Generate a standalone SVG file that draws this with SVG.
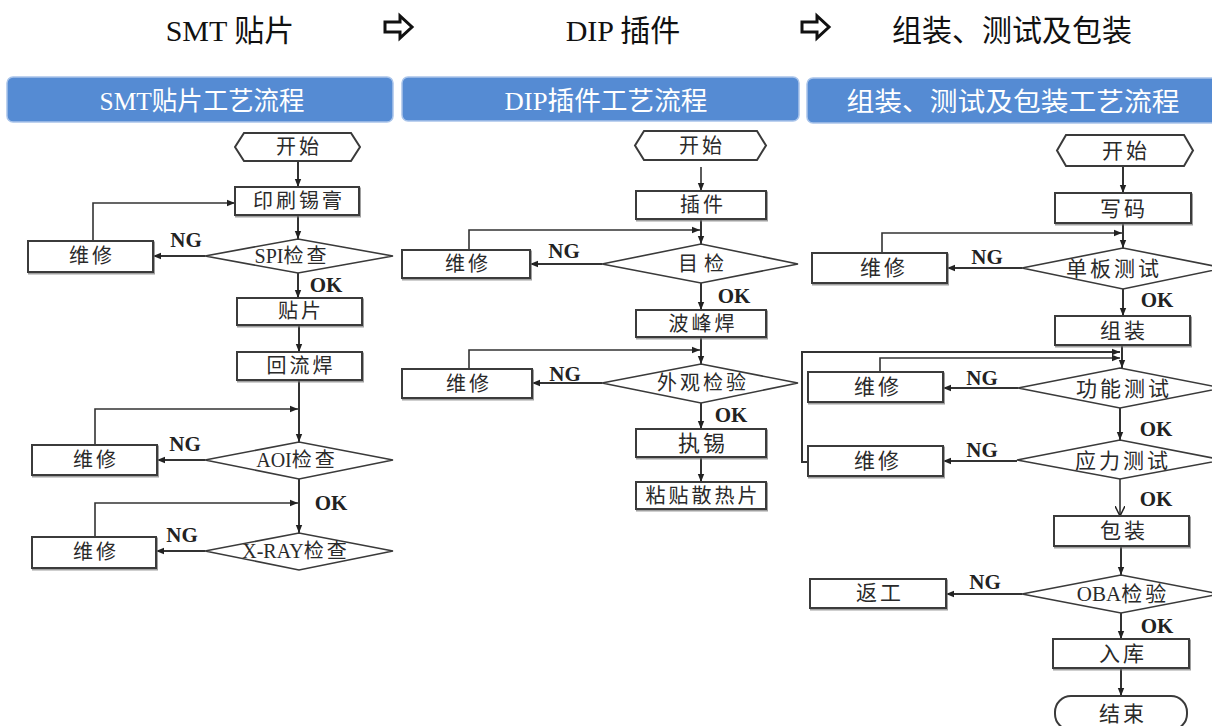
<svg xmlns="http://www.w3.org/2000/svg" width="1212" height="726" viewBox="0 0 1212 726">
<defs>
<style>
.box{fill:#fff;stroke:#3a3a3a;stroke-width:2}
.dia{fill:#fff;stroke:#3a3a3a;stroke-width:1.6}
.t{font-family:"Liberation Serif","Noto Sans CJK SC",serif;font-size:20px;fill:#2a2a2a;text-anchor:middle;letter-spacing:3px}
.t3{font-size:21px}
.la{letter-spacing:0}
.lb{font-family:"Liberation Serif",serif;font-weight:bold;font-size:21px;fill:#222;text-anchor:middle}
.c{fill:none;stroke:#333;stroke-width:2}
.cl{fill:none;stroke:#333;stroke-width:1.6}
.hd{fill:#558bd3;stroke:#a9c4ea;stroke-width:1.5}
.ht{font-family:"Liberation Serif","Noto Sans CJK SC",sans-serif;font-size:26px;fill:#fff;text-anchor:middle}
.top{font-family:"Liberation Serif","Noto Sans CJK SC",serif;font-size:30px;fill:#111;text-anchor:middle}
.blk{fill:#fff;stroke:#111;stroke-width:3;stroke-linejoin:miter}
</style>
<marker id="ah" viewBox="0 0 10 10" refX="10" refY="5" markerWidth="8" markerHeight="8" markerUnits="userSpaceOnUse" orient="auto">
<path d="M0,1 L10,5 L0,9 z" fill="#222"/>
</marker>
<marker id="av" viewBox="0 0 10 10" refX="10" refY="5" markerWidth="10" markerHeight="10" markerUnits="userSpaceOnUse" orient="auto">
<path d="M0,0 L10,5 L0,10" fill="none" stroke="#222" stroke-width="1.5"/>
</marker>
<filter id="sh" x="-10%" y="-20%" width="120%" height="150%">
<feDropShadow dx="1" dy="1.5" stdDeviation="0.6" flood-color="#777" flood-opacity="0.7"/>
</filter>
</defs>
<rect width="1212" height="726" fill="#fff"/>

<g id="top-row">
<text class="top" x="230" y="41">SMT 贴片</text>
<path class="blk" d="M385,22 H400 V16 L412,27 L400,38 V32 H385 Z"/>
<text class="top" x="623" y="41">DIP 插件</text>
<path class="blk" d="M802,22 H817 V16 L829,27 L817,38 V32 H802 Z"/>
<text class="top" x="1012" y="41">组装、测试及包装</text>
</g>

<g id="headers">
<g id="h-smt"><rect class="hd" x="7" y="77" width="386" height="45" rx="6"/><text class="ht" x="202" y="110" textLength="205" lengthAdjust="spacingAndGlyphs">SMT贴片工艺流程</text></g>
<g id="h-dip"><rect class="hd" x="402" y="77" width="397" height="44" rx="6"/><text class="ht" x="606" y="110" textLength="203" lengthAdjust="spacingAndGlyphs">DIP插件工艺流程</text></g>
<g id="h-asm"><rect class="hd" x="807" y="78" width="420" height="45" rx="6"/><text class="ht" x="1013" y="111" textLength="333" lengthAdjust="spacingAndGlyphs">组装、测试及包装工艺流程</text></g>
</g>

<g id="connectors">
<path class="c" d="M298,161 V187" marker-end="url(#ah)"/>
<path class="c" d="M298,215 V239" marker-end="url(#ah)"/>
<path class="c" d="M205,256 H153" marker-end="url(#ah)"/>
<path class="cl" d="M93,241 V203 H235" marker-end="url(#ah)"/>
<path class="c" d="M298,273 V298" marker-end="url(#ah)"/>
<path class="c" d="M299,325 V352" marker-end="url(#ah)"/>
<path class="c" d="M299,380 V442" marker-end="url(#ah)"/>
<path class="cl" d="M95,445 V409 H298" marker-end="url(#ah)"/>
<path class="c" d="M205,460 H157" marker-end="url(#ah)"/>
<path class="c" d="M299,479 V533" marker-end="url(#ah)"/>
<path class="cl" d="M95,537 V503 H298" marker-end="url(#ah)"/>
<path class="c" d="M205,551 H156" marker-end="url(#ah)"/>
<path class="cl" d="M701,167 V191" marker-end="url(#ah)"/>
<path class="c" d="M701,219 V244" marker-end="url(#ah)"/>
<path class="cl" d="M469,250 V230 H700" marker-end="url(#ah)"/>
<path class="c" d="M602,264 H530" marker-end="url(#ah)"/>
<path class="c" d="M701,283 V310" marker-end="url(#ah)"/>
<path class="c" d="M701,337 V364" marker-end="url(#ah)"/>
<path class="cl" d="M469,369 V350 H700" marker-end="url(#ah)"/>
<path class="c" d="M602,383 H532" marker-end="url(#ah)"/>
<path class="c" d="M701,403 V429" marker-end="url(#ah)"/>
<path class="c" d="M701,457 V482" marker-end="url(#ah)"/>
<path class="c" d="M1123,166 V193" marker-end="url(#ah)"/>
<path class="c" d="M1123,223 V248" marker-end="url(#ah)"/>
<path class="cl" d="M882,253 V233 H1122" marker-end="url(#ah)"/>
<path class="c" d="M1022,268 H947" marker-end="url(#ah)"/>
<path class="c" d="M1123,289 V316" marker-end="url(#ah)"/>
<path class="c" d="M1122,345 V368" marker-end="url(#ah)"/>
<path class="c" d="M808,462 H802 V352 H1120" marker-end="url(#ah)"/>
<path class="cl" d="M880,372 V358 H1120" marker-end="url(#ah)"/>
<path class="c" d="M1018,388 H943" marker-end="url(#ah)"/>
<path class="c" d="M1120,408 V440" marker-end="url(#ah)"/>
<path class="c" d="M1017,461 H943" marker-end="url(#ah)"/>
<path class="cl" d="M1120,479 V516" marker-end="url(#av)"/>
<path class="c" d="M1121,546 V575" marker-end="url(#ah)"/>
<path class="c" d="M1022,594 H946" marker-end="url(#ah)"/>
<path class="c" d="M1121,613 V639" marker-end="url(#ah)"/>
<path class="c" d="M1121,668 V696" marker-end="url(#ah)"/>
</g>

<g id="labels">
<text class="lb" x="186" y="247">NG</text>
<text class="lb" x="326" y="292">OK</text>
<text class="lb" x="185" y="451">NG</text>
<text class="lb" x="331" y="510">OK</text>
<text class="lb" x="182" y="542">NG</text>
<text class="lb" x="564" y="258">NG</text>
<text class="lb" x="734" y="303">OK</text>
<text class="lb" x="565" y="381">NG</text>
<text class="lb" x="731" y="422">OK</text>
<text class="lb" x="987" y="264">NG</text>
<text class="lb" x="1157" y="307">OK</text>
<text class="lb" x="982" y="385">NG</text>
<text class="lb" x="1156" y="436">OK</text>
<text class="lb" x="982" y="457">NG</text>
<text class="lb" x="1156" y="506">OK</text>
<text class="lb" x="985" y="589">NG</text>
<text class="lb" x="1157" y="633">OK</text>
</g>

<g id="smt-start"><polygon class="box" points="244,133 351,133 360,147 351,161 244,161 235,147"/><text class="t" x="299" y="154">开始</text></g>
<g id="smt-print"><rect class="box" filter="url(#sh)" x="235" y="187" width="124" height="28"/><text class="t" x="299" y="208">印刷锡膏</text></g>
<g id="smt-spi"><polygon class="dia" points="205,256 298,239 393,256 298,273"/><text class="t" x="292" y="263"><tspan class="la">SPI</tspan>检查</text></g>
<g id="smt-fix1"><rect class="box" filter="url(#sh)" x="28" y="241" width="125" height="31"/><text class="t" x="92" y="263">维修</text></g>
<g id="smt-place"><rect class="box" filter="url(#sh)" x="237" y="298" width="125" height="27"/><text class="t" x="301" y="318">贴片</text></g>
<g id="smt-reflow"><rect class="box" filter="url(#sh)" x="237" y="352" width="125" height="28"/><text class="t" x="301" y="373">回流焊</text></g>
<g id="smt-aoi"><polygon class="dia" points="205,460 299,442 393,460 299,479"/><text class="t" x="297" y="467"><tspan class="la">AOI</tspan>检查</text></g>
<g id="smt-fix2"><rect class="box" filter="url(#sh)" x="32" y="445" width="125" height="30"/><text class="t" x="96" y="467">维修</text></g>
<g id="smt-xray"><polygon class="dia" points="205,551 299,533 393,551 299,570"/><text class="t" x="296" y="558"><tspan class="la">X-RAY</tspan>检查</text></g>
<g id="smt-fix3"><rect class="box" filter="url(#sh)" x="32" y="537" width="124" height="31"/><text class="t" x="96" y="559">维修</text></g>

<g id="dip-start"><polygon class="box" points="644,131 757,131 766,145.5 757,160 644,160 635,145.5"/><text class="t" x="702" y="153">开始</text></g>
<g id="dip-insert"><rect class="box" filter="url(#sh)" x="636" y="191" width="130" height="28"/><text class="t" x="703" y="212">插件</text></g>
<g id="dip-visual"><polygon class="dia" points="602,264 701,244 798,264 701,283"/><text class="t" x="704" y="271" style="letter-spacing:6px">目检</text></g>
<g id="dip-fix1"><rect class="box" filter="url(#sh)" x="402" y="250" width="128" height="28"/><text class="t" x="468" y="271">维修</text></g>
<g id="dip-wave"><rect class="box" filter="url(#sh)" x="636" y="310" width="130" height="27"/><text class="t" x="703" y="331">波峰焊</text></g>
<g id="dip-inspect"><polygon class="dia" points="602,383 701,364 798,383 701,403"/><text class="t" x="703" y="390">外观检验</text></g>
<g id="dip-fix2"><rect class="box" filter="url(#sh)" x="402" y="369" width="130" height="29"/><text class="t" x="469" y="391">维修</text></g>
<g id="dip-tin"><rect class="box" filter="url(#sh)" x="636" y="429" width="130" height="28"/><text class="t" x="703" y="451" style="font-size:22px">执锡</text></g>
<g id="dip-sink"><rect class="box" filter="url(#sh)" x="636" y="482" width="130" height="27"/><text class="t" x="703" y="503">粘贴散热片</text></g>

<g id="asm-start"><polygon class="box" points="1066,135 1184,135 1193,150.5 1184,166 1066,166 1057,150.5"/><text class="t t3" x="1126" y="158">开始</text></g>
<g id="asm-code"><rect class="box" filter="url(#sh)" x="1055" y="193" width="136" height="30"/><text class="t t3" x="1124" y="216">写码</text></g>
<g id="asm-board"><polygon class="dia" points="1022,268 1123,248 1224,268 1123,289"/><text class="t t3" x="1114" y="276">单板测试</text></g>
<g id="asm-fix1"><rect class="box" filter="url(#sh)" x="812" y="253" width="135" height="30"/><text class="t t3" x="884" y="275">维修</text></g>
<g id="asm-assemble"><rect class="box" filter="url(#sh)" x="1055" y="316" width="135" height="29"/><text class="t t3" x="1124" y="338">组装</text></g>
<g id="asm-func"><polygon class="dia" points="1018,388 1120,368 1222,388 1120,408"/><text class="t t3" x="1124" y="396">功能测试</text></g>
<g id="asm-fix2"><rect class="box" filter="url(#sh)" x="808" y="372" width="135" height="30"/><text class="t t3" x="878" y="394">维修</text></g>
<g id="asm-stress"><polygon class="dia" points="1017,460 1120,440 1223,460 1120,479"/><text class="t t3" x="1123" y="468">应力测试</text></g>
<g id="asm-fix3"><rect class="box" filter="url(#sh)" x="808" y="446" width="135" height="30"/><text class="t t3" x="878" y="468">维修</text></g>
<g id="asm-pack"><rect class="box" filter="url(#sh)" x="1054" y="516" width="135" height="30"/><text class="t t3" x="1124" y="538">包装</text></g>
<g id="asm-oba"><polygon class="dia" points="1022,594 1121,575 1220,594 1121,613"/><text class="t t3" x="1123" y="601"><tspan class="la">OBA</tspan>检验</text></g>
<g id="asm-rework"><rect class="box" filter="url(#sh)" x="810" y="579" width="136" height="29"/><text class="t t3" x="880" y="600">返工</text></g>
<g id="asm-store"><rect class="box" filter="url(#sh)" x="1053" y="639" width="136" height="29"/><text class="t t3" x="1123" y="661">入库</text></g>
<g id="asm-end"><rect class="box" x="1055" y="696" width="132" height="34" rx="16"/><text class="t t3" x="1123" y="721">结束</text></g>
</svg>
